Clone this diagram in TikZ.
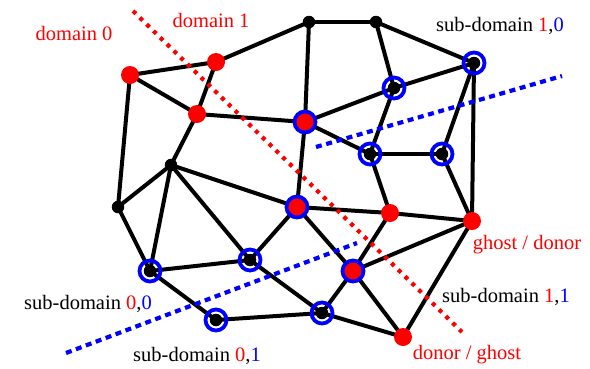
\documentclass[tikz,border=0pt]{standalone}
\usepackage{fontspec}
\setmainfont{Liberation Serif}
\usetikzlibrary{backgrounds}

\begin{document}
\begin{tikzpicture}[x=1pt,y=-1pt,
  edge/.style={line width=4pt},
  blk/.style={circle, fill=black, inner sep=0pt, minimum size=12.5pt},
  rdot/.style={circle, fill=red, inner sep=0pt, minimum size=18pt},
  ring/.style={blue, line width=3.8pt},
  cutred/.style={red, line width=4.2pt, dash pattern=on 4pt off 5.5pt},
  cutblue/.style={blue, line width=4.2pt, dash pattern=on 6pt off 4.6pt},
  lab/.style={font=\fontsize{20.5}{24}\selectfont, inner sep=0pt}]
  \useasboundingbox (0,0) rectangle (590,368);

  % mesh points
  \foreach \n/\x/\y in {d/309/22, e/376/22, f/474/63, g/394/88, i/370/154,
      j/442/154, k/171/165, l/118/207, p/150/271, q/250/260, s/322/313, t/216/320}
    \node[blk] (\n) at (\x,\y) {};
  \foreach \n/\x/\y in {a/130/75, b/216/62, c/197/114, h/305/122, m/297/207,
      n/390/213, o/472/221, r/353/271, u/403/337}
    \node[rdot] (\n) at (\x,\y) {};
  \foreach \n in {f,g,h,i,j,m,p,q,r,s,t}
    \draw[ring] (\n) circle (10.5);

  % cut lines
  \coordinate (r0) at (133,11);   \coordinate (r1) at (462,332);
  \coordinate (b0) at (316,147);  \coordinate (b1) at (562,76);
  \coordinate (b2) at (66,353);   \coordinate (b3) at (357,243);

  \begin{scope}[on background layer]
    \foreach \s/\t in {a/b, a/c, a/l, b/c, b/d, c/h, c/k, d/e, d/h, e/f, e/g,
        f/g, f/j, f/o, g/h, g/i, h/i, h/m, i/j, i/n, j/o, k/l, k/p, k/m, k/q,
        l/p, m/n, m/q, m/r, n/o, n/r, o/r, o/u, p/q, p/t, q/s, r/s, r/u,
        s/t, s/u}
      \draw[edge] (\s.center) -- (\t.center);
    \draw[cutred] (r0) -- (r1);
    \draw[cutblue] (b0) -- (b1);
    \draw[cutblue] (b2) -- (b3);
  \end{scope}

  \node[lab, red] (dom0) at (74,33) {domain 0};
  \node[lab, red] (dom1) at (211,20) {domain 1};
  \node[lab] (sd10) at (500,26) {sub-domain \textcolor{red}{1},\textcolor{blue}{0}};
  \node[lab] (sd00) at (88,304) {sub-domain \textcolor{red}{0},\textcolor{blue}{0}};
  \node[lab] (sd01) at (197,356) {sub-domain \textcolor{red}{0},\textcolor{blue}{1}};
  \node[lab] (sd11) at (506,297) {sub-domain \textcolor{red}{1},\textcolor{blue}{1}};
  \node[lab, red] (gd) at (527,245) {ghost / donor};
  \node[lab, red] (dg) at (467,355) {donor / ghost};
\end{tikzpicture}
\end{document}
